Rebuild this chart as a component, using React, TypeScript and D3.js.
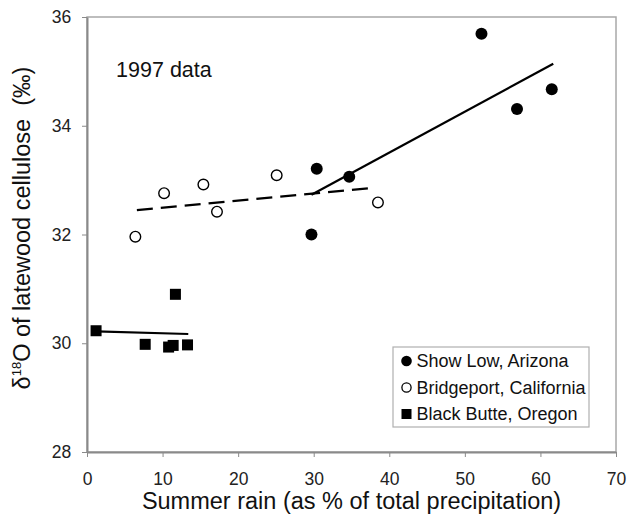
import { useEffect, useRef } from "react";
import * as d3 from "d3";

// Show Low, Arizona (filled circles)
const showLowX = [29.7, 30.4, 34.7, 52.2, 56.9, 61.5];
const showLowY = [32.0, 33.21, 33.06, 35.69, 34.31, 34.67];
const showLowFitX = [29.7, 61.7];
const showLowFitY = [32.73, 35.14];

// Bridgeport, California (open circles)
const bridgeX = [6.4, 10.2, 15.4, 17.2, 25.1, 38.5];
const bridgeY = [31.96, 32.76, 32.92, 32.42, 33.09, 32.59];
const bridgeFitX = [6.6, 38.2];
const bridgeFitY = [32.45, 32.86];

// Black Butte, Oregon (squares)
const butteX = [1.2, 7.7, 10.8, 11.4, 11.7, 13.3];
const butteY = [30.23, 29.98, 29.93, 29.96, 30.9, 29.97];
const butteFitX = [1.2, 13.4];
const butteFitY = [30.22, 30.17];

const xTicks = [0, 10, 20, 30, 40, 50, 60, 70];
const yTicks = [28, 30, 32, 34, 36];
const legendLabels = ["Show Low, Arizona", "Bridgeport, California", "Black Butte, Oregon"];

export default function App() {
  const svgRef = useRef<SVGSVGElement>(null);

  useEffect(() => {
    if (!svgRef.current) return;
    const svg = d3.select(svgRef.current);
    svg.selectAll("*").remove();

    const margin = { top: 17, right: 12, bottom: 67, left: 87 };
    const width = 628;
    const height = 519;
    const font = "'Liberation Sans', Arial, sans-serif";

    const x = d3.scaleLinear().domain([0, 70]).range([margin.left, width - margin.right]);
    const y = d3.scaleLinear().domain([28, 36]).range([height - margin.bottom, margin.top]);

    const axisColor = "#8a8a8a";

    // Plot frame
    svg
      .append("rect")
      .attr("x", x(0))
      .attr("y", y(36))
      .attr("width", x(70) - x(0))
      .attr("height", y(28) - y(36))
      .attr("fill", "none")
      .attr("stroke", "#a8a8a8")
      .attr("stroke-width", 1.5);

    // Axes
    const xAxis = svg
      .append("g")
      .attr("transform", `translate(0,${y(28)})`)
      .call(d3.axisBottom(x).tickValues(xTicks).tickSize(5).tickSizeOuter(0));
    const yAxis = svg
      .append("g")
      .attr("transform", `translate(${x(0)},0)`)
      .call(d3.axisLeft(y).tickValues(yTicks).tickSize(5).tickSizeOuter(0));

    [xAxis, yAxis].forEach((g) => {
      g.select(".domain").attr("stroke", axisColor).attr("stroke-width", 2);
      g.selectAll(".tick line").attr("stroke", axisColor).attr("stroke-width", 1);
      g.selectAll(".tick text")
        .attr("fill", "#222")
        .attr("font-family", font)
        .attr("font-size", 17.5);
    });
    xAxis.selectAll(".tick text").attr("dy", "1.45em");
    yAxis.selectAll(".tick text").attr("dx", "-0.45em");

    // Axis titles
    svg
      .append("text")
      .attr("x", (x(0) + x(70)) / 2)
      .attr("y", 509)
      .attr("text-anchor", "middle")
      .attr("font-family", font)
      .attr("font-size", 23.5)
      .attr("fill", "#111")
      .text("Summer rain (as % of total precipitation)");

    const yt = svg
      .append("text")
      .attr("transform", `translate(30,${228}) rotate(-90)`)
      .attr("text-anchor", "middle")
      .attr("font-family", font)
      .attr("font-size", 23.5)
      .attr("fill", "#111")
      .style("white-space", "pre");
    yt.append("tspan").text("δ");
    yt.append("tspan").attr("font-size", 13).attr("dy", -9).text("18");
    yt.append("tspan").attr("dy", 9).text("O of latewood cellulose  (‰)");

    // Annotation
    svg
      .append("text")
      .attr("x", x(3.85))
      .attr("y", y(34.9))
      .attr("font-family", font)
      .attr("font-size", 21.5)
      .attr("fill", "#111")
      .text("1997 data");

    const line = d3
      .line<[number, number]>()
      .x((d) => x(d[0]))
      .y((d) => y(d[1]));

    const fits: [number[], number[], string | null][] = [
      [showLowFitX, showLowFitY, null],
      [bridgeFitX, bridgeFitY, "16,8"],
      [butteFitX, butteFitY, null],
    ];
    fits.forEach(([fx, fy, dash]) => {
      svg
        .append("path")
        .attr("d", line(fx.map((v, i) => [v, fy[i]] as [number, number])))
        .attr("fill", "none")
        .attr("stroke", "#000")
        .attr("stroke-width", 2.2)
        .attr("stroke-dasharray", dash);
    });

    // Points
    svg
      .append("g")
      .selectAll("circle")
      .data(bridgeX.map((v, i) => [v, bridgeY[i]]))
      .join("circle")
      .attr("cx", (d) => x(d[0]))
      .attr("cy", (d) => y(d[1]))
      .attr("r", 5.3)
      .attr("fill", "#fff")
      .attr("stroke", "#000")
      .attr("stroke-width", 1.4);

    svg
      .append("g")
      .selectAll("circle")
      .data(showLowX.map((v, i) => [v, showLowY[i]]))
      .join("circle")
      .attr("cx", (d) => x(d[0]))
      .attr("cy", (d) => y(d[1]))
      .attr("r", 6)
      .attr("fill", "#000");

    const sq = 11;
    svg
      .append("g")
      .selectAll("rect")
      .data(butteX.map((v, i) => [v, butteY[i]]))
      .join("rect")
      .attr("x", (d) => x(d[0]) - sq / 2)
      .attr("y", (d) => y(d[1]) - sq / 2)
      .attr("width", sq)
      .attr("height", sq)
      .attr("fill", "#000");

    // Legend
    const lg = svg.append("g").attr("transform", "translate(393,347)");
    lg.append("rect")
      .attr("width", 196)
      .attr("height", 80)
      .attr("fill", "#fff")
      .attr("stroke", "#b0b0b0")
      .attr("stroke-width", 1.2);
    legendLabels.forEach((label, i) => {
      const base = 20 + i * 26.5;
      const cy = base - 6;
      if (i === 0) lg.append("circle").attr("cx", 13.5).attr("cy", cy).attr("r", 5.3).attr("fill", "#000");
      if (i === 1)
        lg.append("circle")
          .attr("cx", 13.5)
          .attr("cy", cy)
          .attr("r", 4.6)
          .attr("fill", "#fff")
          .attr("stroke", "#000")
          .attr("stroke-width", 1.3);
      if (i === 2) lg.append("rect").attr("x", 8.5).attr("y", cy - 5).attr("width", 10).attr("height", 10).attr("fill", "#000");
      lg.append("text")
        .attr("x", 23.5)
        .attr("y", base)
        .attr("font-family", font)
        .attr("font-size", 18)
        .attr("fill", "#111")
        .text(label);
    });
  }, []);

  return (
    <svg
      ref={svgRef}
      width={628}
      height={519}
      style={{ position: "absolute", left: 0, top: 0, background: "#fff" }}
    />
  );
}
